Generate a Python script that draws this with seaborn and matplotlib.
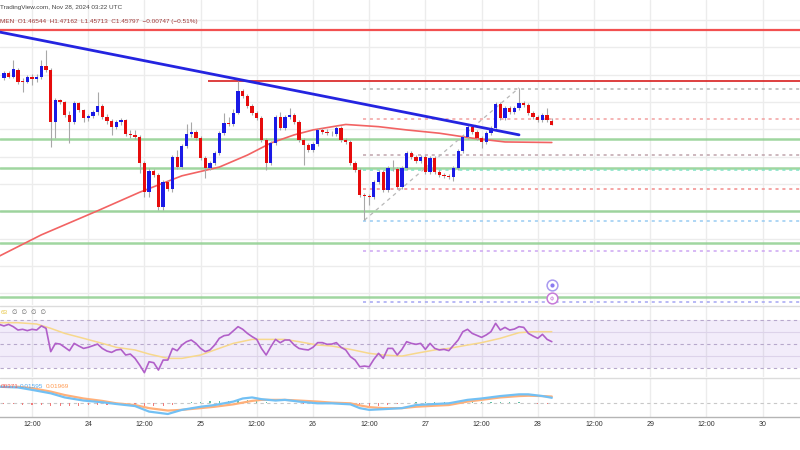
import numpy as np
import matplotlib
matplotlib.use("Agg")
import matplotlib.pyplot as plt
import seaborn as sns

sns.set_theme(style="white")
plt.rcParams['font.family'] = ['Liberation Sans', 'DejaVu Sans']

# ---------------- data ----------------
# candle times: hours since Nov 23 00:00 (1H candles)
candle_hours = list(range(6, 124))
opens = [1.544, 1.553, 1.546, 1.559, 1.539, 1.537, 1.546, 1.542, 1.546, 1.566,
         1.559, 1.464, 1.504, 1.500, 1.476, 1.464, 1.498, 1.486, 1.471, 1.475,
         1.482, 1.493, 1.473, 1.465, 1.454, 1.464, 1.467, 1.442, 1.440, 1.436,
         1.389, 1.335, 1.374, 1.367, 1.308, 1.354, 1.341, 1.400, 1.381, 1.420,
         1.442, 1.445, 1.434, 1.398, 1.379, 1.389, 1.407, 1.443, 1.462, 1.460,
         1.480, 1.520, 1.511, 1.493, 1.480, 1.471, 1.431, 1.389, 1.425, 1.473,
         1.453, 1.473, 1.476, 1.464, 1.431, 1.422, 1.412, 1.423, 1.449, 1.445,
         1.443, 1.442, 1.453, 1.431, 1.427, 1.389, 1.376, 1.330, 1.328, 1.326,
         1.354, 1.372, 1.339, 1.379, 1.378, 1.345, 1.379, 1.407, 1.400, 1.392,
         1.400, 1.372, 1.398, 1.372, 1.367, 1.365, 1.363, 1.379, 1.411, 1.436,
         1.454, 1.445, 1.434, 1.427, 1.443, 1.453, 1.497, 1.471, 1.489, 1.482,
         1.489, 1.498, 1.495, 1.480, 1.473, 1.467, 1.476, 1.46544]
closes = [1.553, 1.546, 1.561, 1.537, 1.537, 1.546, 1.542, 1.546, 1.566, 1.559,
          1.464, 1.504, 1.500, 1.476, 1.464, 1.498, 1.486, 1.471, 1.475, 1.482,
          1.493, 1.473, 1.465, 1.454, 1.464, 1.467, 1.442, 1.440, 1.436, 1.389,
          1.335, 1.374, 1.367, 1.308, 1.354, 1.341, 1.400, 1.381, 1.420, 1.442,
          1.445, 1.434, 1.398, 1.379, 1.389, 1.407, 1.443, 1.462, 1.460, 1.480,
          1.520, 1.511, 1.493, 1.480, 1.471, 1.431, 1.389, 1.425, 1.473, 1.453,
          1.473, 1.476, 1.464, 1.431, 1.422, 1.412, 1.423, 1.449, 1.445, 1.443,
          1.442, 1.453, 1.431, 1.427, 1.389, 1.376, 1.330, 1.328, 1.326, 1.354,
          1.372, 1.339, 1.379, 1.378, 1.345, 1.379, 1.407, 1.400, 1.392, 1.400,
          1.372, 1.398, 1.372, 1.367, 1.365, 1.363, 1.379, 1.411, 1.436, 1.454,
          1.445, 1.434, 1.427, 1.443, 1.453, 1.497, 1.471, 1.489, 1.482, 1.489,
          1.498, 1.495, 1.480, 1.473, 1.467, 1.476, 1.467, 1.45797]
highs = [1.557, 1.557, 1.577, 1.562, 1.544, 1.550, 1.551, 1.551, 1.577, 1.595,
         1.562, 1.507, 1.506, 1.502, 1.484, 1.502, 1.500, 1.487, 1.478, 1.486,
         1.518, 1.497, 1.478, 1.469, 1.467, 1.471, 1.469, 1.449, 1.449, 1.440,
         1.392, 1.379, 1.378, 1.370, 1.357, 1.357, 1.403, 1.412, 1.423, 1.460,
         1.464, 1.449, 1.438, 1.401, 1.392, 1.411, 1.447, 1.480, 1.473, 1.487,
         1.539, 1.524, 1.515, 1.497, 1.484, 1.475, 1.434, 1.429, 1.476, 1.482,
         1.476, 1.489, 1.480, 1.467, 1.434, 1.425, 1.427, 1.453, 1.453, 1.451,
         1.447, 1.456, 1.456, 1.434, 1.431, 1.392, 1.379, 1.334, 1.332, 1.357,
         1.376, 1.376, 1.383, 1.394, 1.381, 1.383, 1.411, 1.411, 1.403, 1.403,
         1.403, 1.401, 1.401, 1.376, 1.370, 1.368, 1.383, 1.414, 1.440, 1.458,
         1.458, 1.449, 1.438, 1.447, 1.456, 1.500, 1.500, 1.493, 1.493, 1.493,
         1.526, 1.502, 1.498, 1.484, 1.476, 1.480, 1.489, 1.47162]
lows = [1.540, 1.544, 1.544, 1.533, 1.518, 1.535, 1.531, 1.537, 1.542, 1.555,
        1.418, 1.434, 1.497, 1.473, 1.425, 1.460, 1.482, 1.464, 1.465, 1.471,
        1.476, 1.469, 1.460, 1.440, 1.451, 1.458, 1.438, 1.434, 1.432, 1.370,
        1.326, 1.326, 1.363, 1.303, 1.303, 1.337, 1.335, 1.378, 1.378, 1.416,
        1.436, 1.431, 1.394, 1.361, 1.376, 1.385, 1.403, 1.440, 1.456, 1.456,
        1.478, 1.507, 1.489, 1.476, 1.467, 1.427, 1.376, 1.385, 1.422, 1.449,
        1.449, 1.469, 1.460, 1.427, 1.385, 1.409, 1.409, 1.420, 1.442, 1.440,
        1.438, 1.438, 1.427, 1.423, 1.385, 1.372, 1.326, 1.284, 1.312, 1.323,
        1.350, 1.335, 1.335, 1.374, 1.341, 1.341, 1.376, 1.396, 1.389, 1.389,
        1.368, 1.368, 1.368, 1.363, 1.361, 1.359, 1.356, 1.376, 1.407, 1.432,
        1.442, 1.431, 1.416, 1.423, 1.440, 1.449, 1.467, 1.467, 1.478, 1.478,
        1.486, 1.491, 1.476, 1.469, 1.464, 1.464, 1.464, 1.45713]

# moving average (red)
ma_hours = [5, 14, 26, 35, 44, 52, 58, 63, 68, 72, 79, 86, 92, 99, 106, 113, 123]
ma_values = [1.218, 1.257, 1.301, 1.335, 1.365, 1.381, 1.403, 1.425, 1.440, 1.449,
             1.459, 1.455, 1.449, 1.443, 1.434, 1.427, 1.426]

# bearish trend line (blue)
trend_hours = [5.17, 116.0]
trend_prices = [1.628, 1.440]

# horizontal levels
red_top_level = 1.632
resistance_level = 1.539
resistance_start = 49.6
support_levels = [1.432, 1.379, 1.301, 1.242, 1.143]

# fibonacci projection (from the 83h swing low to the 116h swing high)
fib_start = 82.7
fib_swing_hours = [83, 116]
fib_swing_prices = [1.284, 1.526]
fib_levels = [1.524, 1.469, 1.403, 1.376, 1.341, 1.282, 1.227, 1.134]
fib_colors = ['#b4b4b4', '#f2a0a0', '#c0a4ac', '#80e2c4', '#f28c8c', '#98ccf2', '#cda6f2', '#a4a6f2']

# event markers
event_hours = [123, 123]
event_prices = [1.165, 1.141]

# RSI
rsi_hours = [5, 6, 7, 8, 9, 10, 11, 12, 13, 14, 15, 16, 17, 18, 19, 20, 21, 22, 23, 24,
             26, 27, 28, 29, 30, 31, 32, 33, 34, 35, 36, 37, 38, 39, 40, 41, 42, 43, 44, 45,
             46, 47, 48, 49, 50, 51, 52, 53, 54, 56, 57, 58, 59, 60, 61, 62, 63, 64, 65, 66,
             67, 68, 69, 70, 71, 72, 73, 74, 75, 76, 77, 78, 79, 80, 81, 82, 83, 84, 85, 86,
             87, 88, 89, 90, 91, 92, 93, 94, 95, 96, 97, 98, 99, 100, 101, 103, 104, 105, 106, 108,
             109, 110, 111, 112, 113, 114, 115, 116, 117, 118, 119, 120, 121, 122, 123]
rsi_values = [66.6, 65.3, 66.6, 64.7, 61.9, 62.5, 61.4, 62.5, 61.9, 65.3, 63.3, 43.9, 50.8, 50.2, 47.5, 44.7, 50.8, 48.6, 46.6, 47.5,
              50.2, 46.6, 44.4, 43.3, 45.3, 45.8, 41.1, 41.9, 38.3, 32.7, 26.4, 35.5, 34.7, 28.6, 36.9, 36.9, 46.6, 44.7, 49.4, 52.2,
              53.6, 50.8, 46.6, 43.9, 45.3, 49.4, 55.0, 57.2, 57.8, 64.7, 62.5, 59.1, 56.4, 54.1, 46.6, 41.1, 48.0, 54.1, 51.3, 53.6,
              53.6, 49.4, 46.6, 45.8, 45.3, 47.5, 51.4, 51.4, 50.0, 50.2, 51.4, 47.5, 45.3, 39.7, 36.9, 31.3, 31.9, 31.3, 37.5, 42.5,
              38.3, 46.6, 46.6, 41.1, 45.8, 52.2, 50.8, 50.0, 50.8, 45.8, 50.8, 46.6, 45.3, 45.8, 44.7, 53.6, 60.5, 62.5, 59.1, 55.8,
              57.8, 60.5, 67.5, 61.9, 64.1, 61.9, 62.7, 64.7, 64.1, 59.1, 56.9, 55.0, 58.3, 54.1, 52.2]
rsi_ma_hours = [5, 9, 13, 16, 19, 23, 27, 30, 34, 37, 41, 44, 48, 51, 55, 59, 62, 66, 69, 73,
                76, 80, 84, 87, 91, 94, 98, 101, 105, 108, 112, 116, 119, 123]
rsi_ma_values = [68.0, 68.0, 66.9, 63.3, 59.1, 55.0, 50.8, 47.5, 45.3, 41.9, 38.3, 38.3, 41.1, 45.3, 50.8, 54.1, 54.1, 54.1, 52.2, 49.4,
                 48.6, 45.8, 42.5, 41.1, 40.2, 42.5, 45.3, 46.6, 49.4, 51.4, 55.0, 59.7, 60.5, 60.5]

# MACD
macd_hours = [5, 9, 12, 16, 19, 23, 27, 30, 34, 37, 41, 44, 48, 51, 55, 57, 59, 61, 64, 66,
              69, 73, 76, 80, 82, 84, 87, 91, 94, 98, 101, 105, 108, 112, 116, 118, 121, 123]
macd_values = [0.048, 0.046, 0.039, 0.029, 0.017, 0.008, 0.003, -0.002, -0.008, -0.024, -0.031, -0.019, -0.010, -0.005, 0.005, 0.014, 0.017, 0.012, 0.008, 0.010,
               0.005, 0.000, 0.000, -0.003, -0.014, -0.019, -0.017, -0.014, -0.005, -0.002, 0.000, 0.010, 0.014, 0.021, 0.026, 0.026, 0.021, 0.01595]
signal_values = [0.048, 0.048, 0.044, 0.034, 0.024, 0.014, 0.007, 0.000, -0.005, -0.014, -0.021, -0.019, -0.014, -0.010, -0.003, 0.002, 0.007, 0.010, 0.010, 0.010,
                 0.008, 0.005, 0.002, 0.000, -0.006, -0.011, -0.014, -0.014, -0.010, -0.007, -0.005, 0.005, 0.010, 0.017, 0.021, 0.022, 0.021, 0.01969]
hist_values = [-0.002, -0.003, -0.004, -0.005, -0.006, -0.008,
               -0.009, -0.008, -0.007, -0.006, -0.005, -0.004, -0.003,
               -0.004, -0.006, -0.008, -0.009, -0.007, -0.004,
               0.001, 0.003, 0.005, 0.006, 0.006, 0.007, 0.008, 0.009,
               0.007, 0.004, 0.002, 0.001, 0.000, -0.001, -0.002, -0.003, -0.002, -0.002,
               -0.003, -0.006, -0.008, -0.007, -0.005, -0.003,
               0.002, 0.003, 0.004, 0.005, 0.004, 0.004, 0.005,
               0.005, 0.004, 0.004, 0.004, 0.004, 0.003,
               0.001, -0.002, -0.003]

tick_hours = [12, 24, 36, 48, 60, 72, 84, 96, 108, 120, 132, 144, 156, 168]
tick_labels = ["12:00", "24", "12:00", "25", "12:00", "26", "12:00", "27",
               "12:00", "28", "12:00", "29", "12:00", "30"]
price_grid = [1.15, 1.20, 1.25, 1.30, 1.35, 1.40, 1.45, 1.50, 1.55, 1.60, 1.65]

header_1 = "TradingView.com, Nov 28, 2024 03:22 UTC"
header_2 = "MEN  O1.46544  H1.47162  L1.45713  C1.45797  \u22120.00747 (\u22120.51%)"
rsi_header = "63"
rsi_header_rest = "\u2205  \u2205  \u2205  \u2205"
macd_header = ["00371", "0.01595", "0.01969"]

# ---------------- figure ----------------
W, H = 800, 450
fig = plt.figure(figsize=(8, 4.5), dpi=100)
fig.patch.set_facecolor('white')

def pane(top, bottom):
    a = fig.add_axes([0, 1 - bottom / H, 1, (bottom - top) / H])
    a.set_facecolor('white')
    for s in a.spines.values():
        s.set_visible(False)
    a.set_xlim(5.167, 176.0)
    a.set_yticks([])
    a.set_xticks([])
    for t in tick_hours:
        a.axvline(t, color='#ececec', lw=1.0, zorder=0)
    return a

ax = pane(0, 305)
ax_rsi = pane(306, 377)
ax_macd = pane(378, 417)

XMAX = 176.0
GRID = '#ececec'

# ---- main pane ----
ax.set_ylim(1.1286, 1.6868)
for p in price_grid:
    ax.axhline(p, color=GRID, lw=1.0, zorder=0)

for lvl in support_levels:
    ax.axhline(lvl, color='#8fcf8f', lw=1.8, alpha=0.85, zorder=1)
ax.axhline(red_top_level, color='#f25050', lw=1.6, zorder=1)
ax.hlines(resistance_level, resistance_start, XMAX, color='#d81f1f', lw=1.2, zorder=1)

for lvl, c in zip(fib_levels, fib_colors):
    ax.hlines(lvl, fib_start, XMAX, color=c, lw=1.1, linestyles=(0, (2, 2.5)), zorder=1)
sns.lineplot(x=fib_swing_hours, y=fib_swing_prices, ax=ax, color='#b8b8b8', lw=0.9,
             linestyle=(0, (3, 3)), legend=False, zorder=2)

sns.lineplot(x=ma_hours, y=ma_values, ax=ax, color='#f26363', lw=1.2, legend=False, zorder=2)
sns.lineplot(x=trend_hours, y=trend_prices, ax=ax, color='#2424e0', lw=2.0, legend=False, zorder=4)

o = np.array(opens); c = np.array(closes)
colors = np.where(c >= o, '#1a1ae6', '#e60c0c')
ax.vlines(candle_hours, lows, highs, color='#a8a8a8', lw=0.8, zorder=3)
body = np.where(np.abs(c - o) < 0.0012, 0.0012, c - o)
ax.bar(candle_hours, body, bottom=o, width=0.7, color=colors, lw=0, zorder=3)

ax.scatter(event_hours[:1], event_prices[:1], s=60, facecolor='white', edgecolor='#a99af0', lw=1.1, zorder=5)
ax.scatter(event_hours[:1], event_prices[:1], s=4, color='#8a7af0', zorder=6)
ax.scatter(event_hours[1:], event_prices[1:], s=60, facecolor='white', edgecolor='#c77ad8', lw=1.1, zorder=5)
ax.text(event_hours[1], event_prices[1], "\u03d5", color='#c77ad8', fontsize=4.5,
        ha='center', va='center', zorder=6, family=['DejaVu Sans'])

# ---- RSI pane ----
ax_rsi.set_ylim(22.8, 81.9)
ax_rsi.axhspan(30, 70, color='#8c5ad2', alpha=0.11, lw=0, zorder=0)
for g in [40, 60]:
    ax_rsi.axhline(g, color='#ddd3ea', lw=0.8, zorder=0)
for g in [30, 50, 70]:
    ax_rsi.axhline(g, color='#b7a8cc', lw=0.8, linestyle=(0, (3, 3)), zorder=1)
sns.lineplot(x=rsi_ma_hours, y=rsi_ma_values, ax=ax_rsi, color='#f7d88c', lw=1.1, legend=False, zorder=2)
sns.lineplot(x=rsi_hours, y=rsi_values, ax=ax_rsi, color='#b15fc9', lw=1.2, legend=False, zorder=3)

# ---- MACD pane ----
ax_macd.set_ylim(-0.0397, 0.0734)
ax_macd.axhline(0, color='#c8c8c8', lw=0.8, linestyle=(0, (3, 3)), zorder=0)
hist_hours = list(range(6, 124, 2))
hv = np.array(hist_values)
hcol = np.where(hv >= 0, '#5fbfa4', '#f07a7a')
ax_macd.bar(hist_hours, hv, width=0.25, color=hcol, lw=0, zorder=1)
sns.lineplot(x=macd_hours, y=signal_values, ax=ax_macd, color='#ffb07a', lw=1.6, legend=False, zorder=2)
sns.lineplot(x=macd_hours, y=macd_values, ax=ax_macd, color='#72c0f4', lw=1.6, legend=False, zorder=3)

ax_macd.spines['bottom'].set_visible(True)
ax_macd.spines['bottom'].set_color('#b5b5b5')
ax_macd.spines['bottom'].set_linewidth(1.0)
ax_macd.set_xticks(tick_hours)
ax_macd.set_xticklabels(tick_labels)
ax_macd.tick_params(axis='x', length=0, pad=3, labelsize=5, colors='#333333')
ax_macd.set_ylabel("")
ax_rsi.set_ylabel("")
ax.set_ylabel("")

# pane separators
for y in [305.5, 377.5]:
    fig.add_artist(plt.Line2D([0, 1], [1 - y / H, 1 - y / H], color='#dcdcdc', lw=1.0))

# ---- header texts ----
def ftext(xp, yp, s, **kw):
    fig.text(xp / W, 1 - yp / H, s, va='center', **kw)

ftext(0.5, 7, header_1, fontsize=4.6, color='#444444')
ftext(0.5, 22, header_2, fontsize=4.6, color='#a03a3a')
ftext(0.5, 313, rsi_header, fontsize=4.6, color='#e8c84a')
ftext(12, 313, rsi_header_rest, fontsize=4.6, color='#666666', family=['DejaVu Sans'])
ftext(0.5, 386, macd_header[0], fontsize=4.6, color='#f06060')
ftext(20, 386, macd_header[1], fontsize=4.6, color='#55aaf0')
ftext(46, 386, macd_header[2], fontsize=4.6, color='#ff9a50')

fig.savefig("out.png", dpi=100, facecolor='white')
